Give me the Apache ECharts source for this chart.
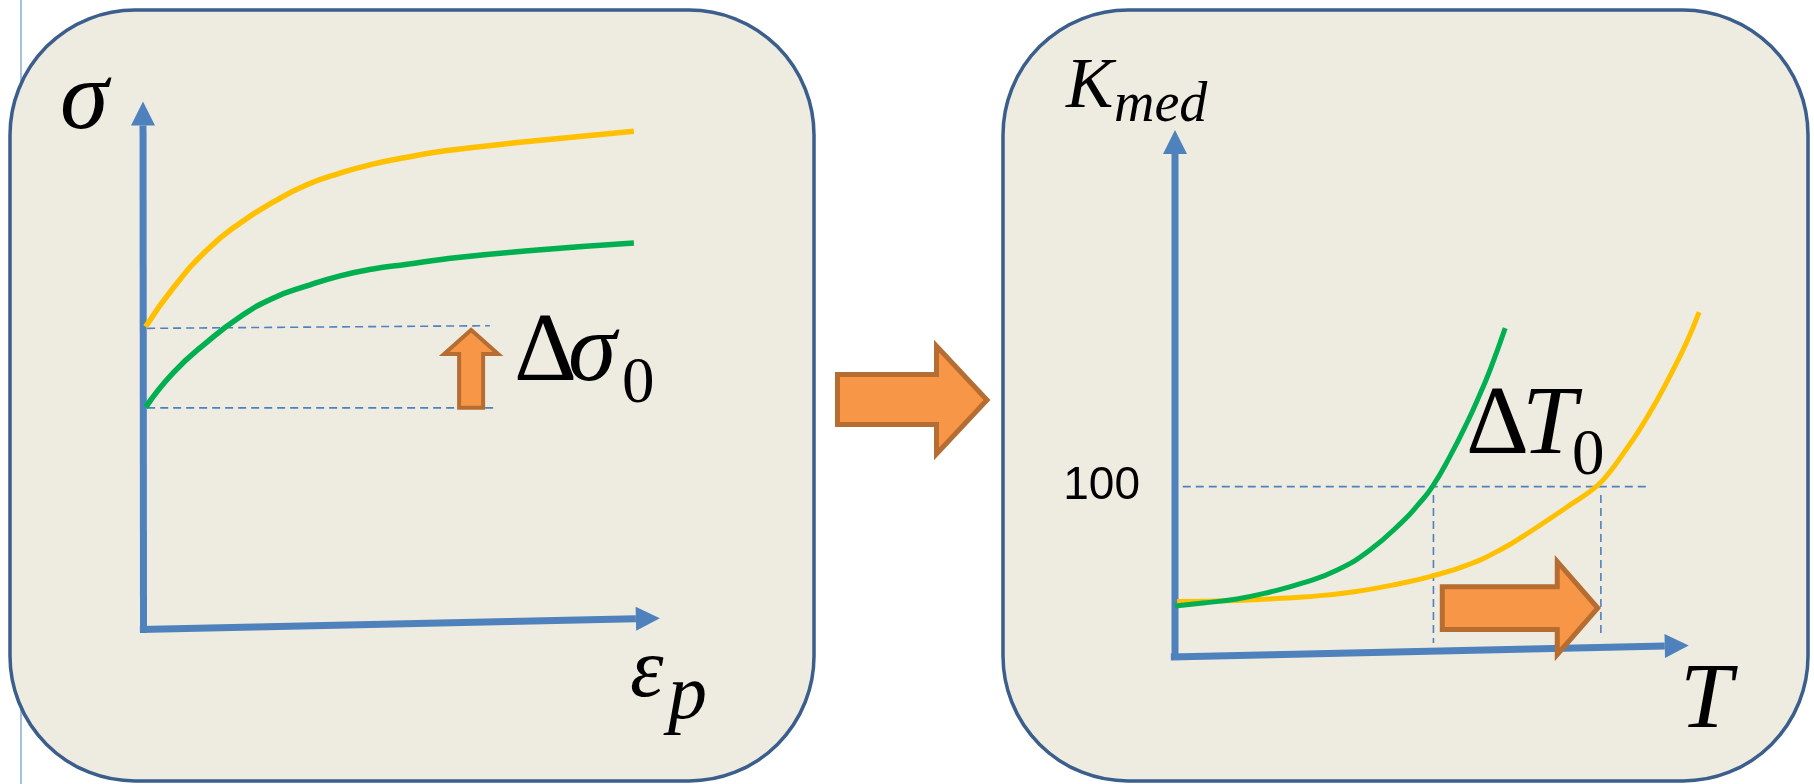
<!DOCTYPE html>
<html>
<head>
<meta charset="utf-8">
<script src="https://cdn.jsdelivr.net/npm/echarts@6/dist/echarts.min.js"></script>
<style>
  html, body { margin: 0; padding: 0; background: #ffffff; }
  #chart { width: 1814px; height: 784px; }
</style>
</head>
<body>
<div id="chart"></div>
<script>
// ---- Left panel: flow stress σ versus plastic strain ε_p ----
const strainX  = [0.05, 0.58, 1.23, 1.87, 2.50, 3.15, 3.79, 4.42, 5.08, 5.81, 7.35, 9.44];
const sigmaHigh = [5.74, 6.47, 7.19, 7.70, 8.09, 8.42, 8.64, 8.81, 8.94, 9.06, 9.23, 9.43];
const sigmaLow  = [4.22, 4.87, 5.45, 5.93, 6.28, 6.51, 6.70, 6.83, 6.92, 7.02, 7.17, 7.32];
const sigmaUpperGuide = [[0.08, 5.71], [6.67, 5.76]];
const sigmaLowerGuide = [[0.08, 4.21], [6.75, 4.21]];
const sigmaShift = [[6.31, 4.21, 6.31, 5.68]];            // Δσ0 arrow: from low to high start level
const sigmaAxes = [[0.01, -0.04, 0.0, 9.99], [-0.06, 0.03, 9.94, 0.24]];

// ---- Right panel: K_med versus temperature T ----
const tempGreen = [0.00, 0.54, 1.19, 1.83, 2.46, 3.12, 3.75, 4.38, 4.68, 4.95, 5.29, 5.62, 5.87, 6.06, 6.35];
const kGreen    = [29.5, 31.3, 33.7, 37.8, 43.1, 50.8, 62.6, 79.5, 89.5, 100, 118, 138, 155, 169, 193.6];
const tempYellow = [0.04, 1.19, 1.83, 2.46, 3.42, 4.38, 4.94, 5.62, 6.25, 6.88, 7.54, 8.10, 8.37, 8.62, 8.94, 9.27, 9.58, 9.85, 10.08];
const kYellow    = [32.2, 32.8, 33.7, 34.8, 37.8, 43.1, 47.2, 53.7, 62.6, 74.4, 88.0, 100, 109, 119.5, 134, 151, 169, 186, 203];
const kTickLabels = [100];
const kLevelGuide = [[0.15, 100], [9.1, 100]];
const tGreenGuide = [[4.97, 95], [4.97, 7.7]];
const tYellowGuide = [[8.19, 95], [8.19, 11.2]];
const tShift = [[5.14, 28.3, 8.13, 28.3]];                 // ΔT0 arrow along T
const kAxes = [[0.0, -2.4, 0.0, 310.6], [-0.08, -0.6, 9.88, 6.2]];

const AXIS_BLUE = '#4f81bd';
const YELLOW = '#ffc000';
const GREEN = '#00b050';
const ORANGE = '#f79646';
const ORANGE_EDGE = '#b66d31';
const PANEL_FILL = '#eeebe1';
const PANEL_EDGE = '#3b5e8c';
const SERIF = '"Liberation Serif", "Times New Roman", serif';

const zip = (xs, ys) => xs.map((x, i) => [x, ys[i]]);

// Axis with a triangular head, drawn in data space
function axisArrow(headLen, headHalf, width) {
  return function (params, api) {
    const p0 = api.coord([api.value(0), api.value(1)]);
    const p1 = api.coord([api.value(2), api.value(3)]);
    const dx = p1[0] - p0[0], dy = p1[1] - p0[1];
    const len = Math.hypot(dx, dy);
    const ux = dx / len, uy = dy / len, nx = -uy, ny = ux;
    const bx = p1[0] - ux * headLen, by = p1[1] - uy * headLen;
    return {
      type: 'group',
      children: [
        { type: 'line', shape: { x1: p0[0], y1: p0[1], x2: bx, y2: by },
          style: { stroke: AXIS_BLUE, lineWidth: width, lineCap: 'butt' } },
        { type: 'polygon', shape: { points: [
            [bx + nx * headHalf, by + ny * headHalf], p1, [bx - nx * headHalf, by - ny * headHalf]] },
          style: { fill: AXIS_BLUE } }
      ]
    };
  };
}

// Outlined block arrow, drawn in data space
function blockArrow(shaftHalf, headHalf, headLen, edge) {
  return function (params, api) {
    const p0 = api.coord([api.value(0), api.value(1)]);
    const p1 = api.coord([api.value(2), api.value(3)]);
    const dx = p1[0] - p0[0], dy = p1[1] - p0[1];
    const len = Math.hypot(dx, dy);
    const ux = dx / len, uy = dy / len, nx = -uy, ny = ux;
    const bx = p1[0] - ux * headLen, by = p1[1] - uy * headLen;
    const pt = (x, y, s) => [x + nx * s, y + ny * s];
    return {
      type: 'polygon',
      shape: { points: [
        pt(p0[0], p0[1], shaftHalf), pt(bx, by, shaftHalf), pt(bx, by, headHalf), p1,
        pt(bx, by, -headHalf), pt(bx, by, -shaftHalf), pt(p0[0], p0[1], -shaftHalf)] },
      style: { fill: ORANGE, stroke: ORANGE_EDGE, lineWidth: edge, lineJoin: 'miter' }
    };
  };
}

function curve(name, grid, data, color, width) {
  return { name, type: 'line', xAxisIndex: grid, yAxisIndex: grid, data, smooth: 0.5,
    showSymbol: false, symbol: 'none', lineStyle: { color, width, cap: 'butt' }, z: 4, silent: true };
}
function guide(grid, data) {
  return { type: 'line', xAxisIndex: grid, yAxisIndex: grid, data, showSymbol: false, symbol: 'none',
    lineStyle: { color: AXIS_BLUE, width: 1.6, type: [8, 5] }, z: 3, silent: true };
}

function label(text, x, y, size, italic, z) {
  return { type: 'text', x, y, z: z || 20, silent: true,
    style: { text, fill: '#000', font: (italic ? 'italic ' : '') + size + 'px ' + SERIF,
      textAlign: 'left', textVerticalAlign: 'middle', verticalAlign: 'middle' } };
}

const chart = echarts.init(document.getElementById('chart'), null, { renderer: 'canvas' });

chart.setOption({
  animation: false,
  backgroundColor: '#ffffff',
  grid: [
    { left: 143, top: 101, width: 520, height: 530 },
    { left: 1175, top: 114, width: 572, height: 542 }
  ],
  xAxis: [
    { gridIndex: 0, type: 'value', min: 0, max: 10, show: false },
    { gridIndex: 1, type: 'value', min: 0, max: 11, show: false }
  ],
  yAxis: [
    { gridIndex: 0, type: 'value', min: 0, max: 10, show: false },
    { gridIndex: 1, type: 'value', min: 0, max: 320, interval: 100,
      axisLine: { show: false }, axisTick: { show: false }, splitLine: { show: false },
      axisLabel: { show: true, margin: 35, color: '#000', fontSize: 46,
        fontFamily: '"Liberation Sans", Arial, sans-serif', verticalAlign: 'bottom', lineHeight: 1,
        formatter: v => (kTickLabels.includes(v) ? String(v) : '') } }
  ],
  graphic: [
    { type: 'line', z: 0, silent: true, shape: { x1: 21, y1: 0, x2: 21, y2: 784 },
      style: { stroke: AXIS_BLUE, lineWidth: 1 } },
    { type: 'rect', z: 0, silent: true, shape: { x: 10, y: 10, width: 804, height: 771, r: 125 },
      style: { fill: PANEL_FILL, stroke: PANEL_EDGE, lineWidth: 3.5 } },
    { type: 'rect', z: 0, silent: true, shape: { x: 1003, y: 10, width: 805, height: 771, r: 125 },
      style: { fill: PANEL_FILL, stroke: PANEL_EDGE, lineWidth: 3.5 } },
    { type: 'polygon', z: 1, silent: true,
      shape: { points: [[837.5, 374.5], [936.5, 374.5], [936.5, 346], [987, 400], [936.5, 454], [936.5, 424.5], [837.5, 424.5]] },
      style: { fill: ORANGE, stroke: ORANGE_EDGE, lineWidth: 5, lineJoin: 'miter' } },
    // left panel texts
    label('σ', 60, 102, 98, true),
    label('ε', 630, 674, 85, true),
    label('p', 668, 697, 78, true),
    label('Δ', 514, 354, 98, false),
    label('σ', 568, 354, 98, true),
    label('0', 622, 385, 65, false),
    // right panel texts
    label('K', 1066, 88, 71, true),
    label('med', 1114, 106, 56, true),
    label('T', 1680, 702, 94, true),
    label('Δ', 1466, 427, 98, false),
    label('T', 1522, 427, 98, true),
    label('0', 1572, 457, 65, false)
  ],
  series: [
    guide(0, sigmaUpperGuide),
    guide(0, sigmaLowerGuide),
    { type: 'custom', xAxisIndex: 0, yAxisIndex: 0, data: sigmaAxes, clip: false, z: 2, silent: true,
      renderItem: axisArrow(24, 12, 7) },
    curve('σ high', 0, zip(strainX, sigmaHigh), YELLOW, 5.5),
    curve('σ low', 0, zip(strainX, sigmaLow), GREEN, 5.5),
    { type: 'custom', xAxisIndex: 0, yAxisIndex: 0, data: sigmaShift, clip: false, z: 6, silent: true,
      renderItem: blockArrow(12, 27, 24, 4) },

    guide(1, kLevelGuide),
    guide(1, tGreenGuide),
    guide(1, tYellowGuide),
    { type: 'custom', xAxisIndex: 1, yAxisIndex: 1, data: kAxes, clip: false, z: 2, silent: true,
      renderItem: axisArrow(24, 12, 7) },
    curve('K yellow', 1, zip(tempYellow, kYellow), YELLOW, 5),
    curve('K green', 1, zip(tempGreen, kGreen), GREEN, 5),
    { type: 'custom', xAxisIndex: 1, yAxisIndex: 1, data: tShift, clip: false, z: 6, silent: true,
      renderItem: blockArrow(21.4, 46.4, 40.5, 5) }
  ]
});
</script>
</body>
</html>
